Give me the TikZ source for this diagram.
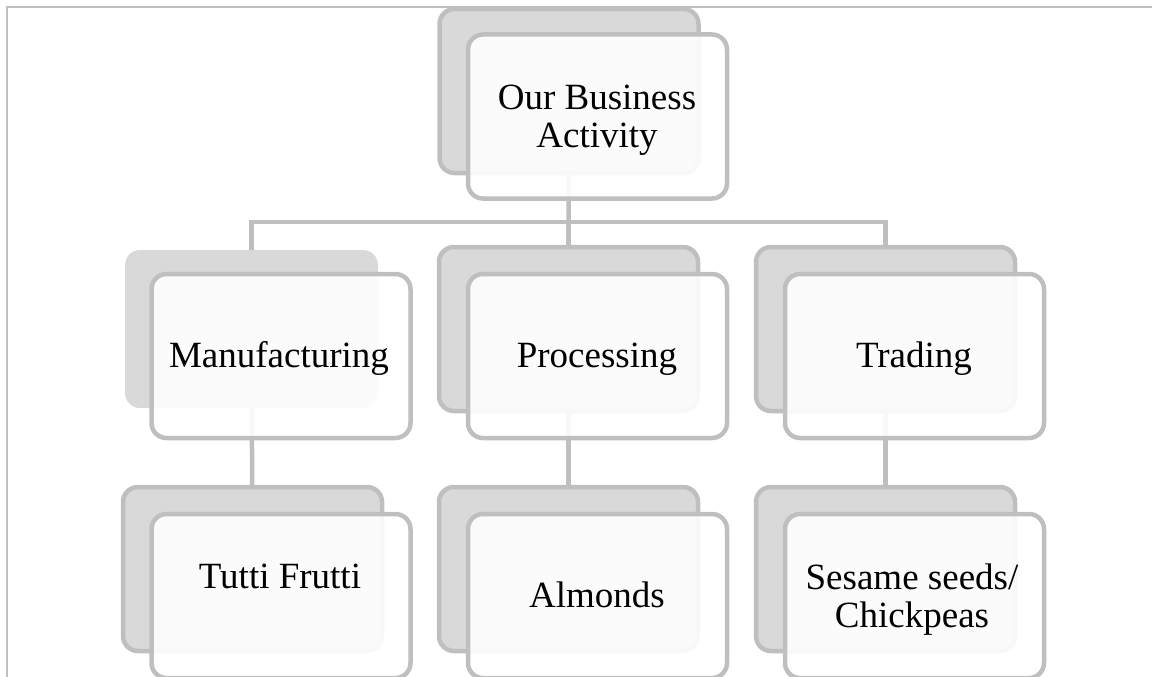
\documentclass[tikz,border=0pt]{standalone}
\usepackage{fontspec}
\setmainfont{Liberation Serif}
\usetikzlibrary{backgrounds}
\definecolor{edge}{HTML}{BFBFBF}
\definecolor{shade}{HTML}{D9D9D9}
\tikzset{
  shadowbox/.style={draw=edge, line width=4.5pt, fill=shade, rounded corners=15pt,
    minimum width=259pt, minimum height=164pt, inner sep=0pt},
  plainshadow/.style={draw=none, fill=shade, rounded corners=15pt,
    minimum width=253pt, minimum height=158pt, inner sep=0pt},
  frontbox/.style={draw=edge, line width=4.5pt, fill=white, fill opacity=0.9,
    rounded corners=15pt, minimum width=259pt, minimum height=164pt, inner sep=0pt},
  conn/.style={draw=edge, line width=4.5pt},
  frame/.style={draw=edge, line width=2pt},
  lbl/.style={font=\fontsize{37}{38}\selectfont, text=black, inner sep=0pt, anchor=base, align=center}
}
\begin{document}
\begin{tikzpicture}[x=1pt, y=-1pt]
\useasboundingbox (0,0) rectangle (1152,677);
\clip (0,0) rectangle (1152,677);
\draw[frame] (7,677) -- (7,7) -- (1152,7);

% shadows
\node[shadowbox] (s0) at (569,91) {};
\node[plainshadow] (s1) at (251.5,329) {};
\node[shadowbox] (s2) at (568.5,329) {};
\node[shadowbox] (s3) at (885.5,329) {};
\node[shadowbox] (t1) at (252.5,569) {};
\node[shadowbox] (t2) at (568.5,569) {};
\node[shadowbox] (t3) at (885.5,569) {};
\coordinate (bus) at (568.5,222);

% connectors behind the boxes
\begin{scope}[on background layer]
\draw[conn] (s0.center) -- (bus);
\draw[conn] (s1.center) |- (bus) -| (s3.center);
\draw[conn] (bus) -- (s2.center);
\draw[conn] (s1.center) -- (t1.center);
\draw[conn] (s2.center) -- (t2.center);
\draw[conn] (s3.center) -- (t3.center);
\end{scope}

% front boxes
\node[frontbox] (f0) at (597.5,116.5) {};
\node[frontbox] (f1) at (281,356) {};
\node[frontbox] (f2) at (597.5,356) {};
\node[frontbox] (f3) at (914.5,356) {};
\node[frontbox] (g1) at (281,596) {};
\node[frontbox] (g2) at (597.5,596) {};
\node[frontbox] (g3) at (914.5,596) {};

% labels
\node[lbl] (l0) at (597,147) {Our Business\\Activity};
\node[lbl] (l1) at (279,367) {Manufacturing};
\node[lbl] (l2) at (597,367) {Processing};
\node[lbl] (l3) at (914,367) {Trading};
\node[lbl] (m1) at (280,588) {Tutti Frutti};
\node[lbl] (m2) at (597,607) {Almonds};
\node[lbl] (m3) at (912,627) {Sesame seeds/\\Chickpeas};
\end{tikzpicture}
\end{document}
